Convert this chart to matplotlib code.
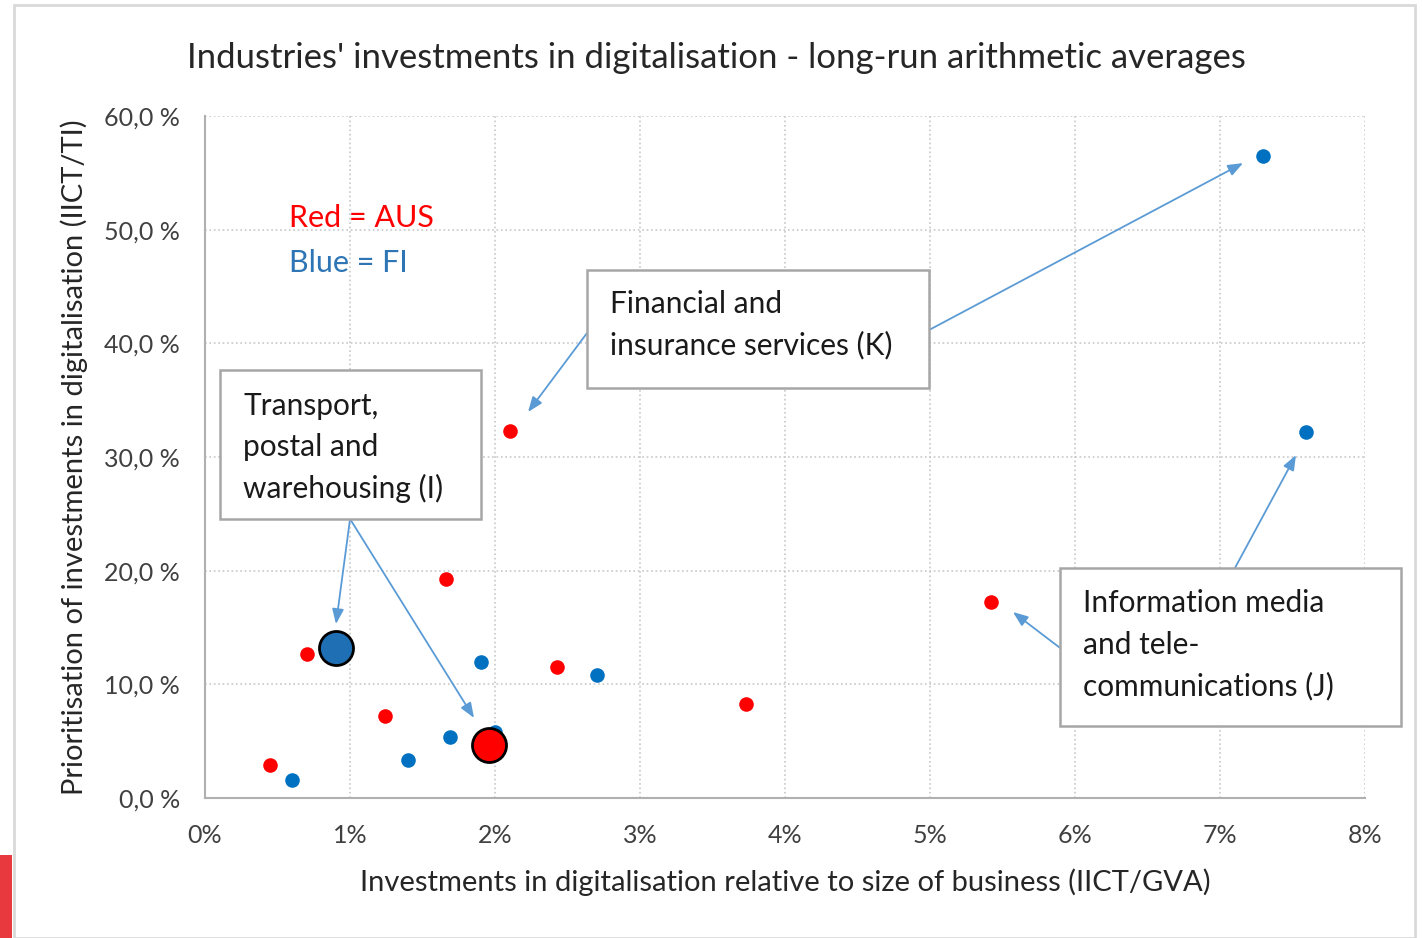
import matplotlib.pyplot as plt
from matplotlib.patches import Rectangle
from matplotlib.ticker import FuncFormatter

plt.rcParams['font.family'] = ['Lato', 'DejaVu Sans']

# data (x = IICT/GVA in %, y = IICT/TI in %)
aus_x = [0.45, 0.70, 1.24, 1.66, 2.10, 2.43, 3.73, 5.42]
aus_y = [2.9, 12.7, 7.2, 19.3, 32.3, 11.5, 8.3, 17.2]
fi_x = [0.60, 1.40, 1.69, 1.90, 2.00, 2.70, 7.30, 7.59]
fi_y = [1.6, 3.3, 5.4, 12.0, 5.8, 10.8, 56.5, 32.2]
# highlighted transport industry (I)
aus_big = (1.96, 4.7)
fi_big = (0.90, 13.2)

xticks = [0, 1, 2, 3, 4, 5, 6, 7, 8]
yticks = [0, 10, 20, 30, 40, 50, 60]

red = '#ff0000'
blue = '#0070c0'
arrow_c = '#5b9bd5'

fig = plt.figure(figsize=(14.22, 9.38), dpi=100)
ax = fig.add_axes([0.1442, 0.1493, 0.8157, 0.727])

ax.scatter(aus_x, aus_y, s=110, color=red, zorder=3, linewidths=0)
ax.scatter(fi_x, fi_y, s=110, color=blue, zorder=3, linewidths=0)
ax.scatter([fi_big[0]], [fi_big[1]], s=600, color='#1f6fb5', edgecolors='black', linewidths=2, zorder=4)
ax.scatter([aus_big[0]], [aus_big[1]], s=600, color=red, edgecolors='black', linewidths=2, zorder=4)

ax.set_xlim(0, 8)
ax.set_ylim(0, 60)
ax.set_xticks(xticks)
ax.set_yticks(yticks)
ax.xaxis.set_major_formatter(FuncFormatter(lambda v, p: '%d%%' % v))
ax.yaxis.set_major_formatter(FuncFormatter(lambda v, p: ('%.1f' % v).replace('.', ',') + ' %'))
ax.tick_params(length=0, labelsize=18, colors='#404040')
ax.tick_params(axis='x', pad=19)
ax.tick_params(axis='y', pad=18)
ax.grid(True, color='#c8c8c8', linestyle=':', linewidth=1.2)
for s in ['top', 'right']:
    ax.spines[s].set_visible(False)
for s in ['left', 'bottom']:
    ax.spines[s].set_color('#b0b0b0')
    ax.spines[s].set_linewidth(1.5)
ax.set_axisbelow(True)

ax.set_xlabel('Investments in digitalisation relative to size of business (IICT/GVA)', fontsize=21, color='#262626', labelpad=15)
ax.set_ylabel('Prioritisation of investments in digitalisation (IICT/TI)', fontsize=21, color='#262626', labelpad=12)
fig.text(0.5035, 0.938, "Industries' investments in digitalisation - long-run arithmetic averages",
         ha='center', va='center', fontsize=25, color='#262626')

ax.text(0.58, 51.0, 'Red = AUS', color=red, fontsize=22, va='center')
ax.text(0.58, 47.1, 'Blue = FI', color='#2e75b6', fontsize=22, va='center')

# annotation boxes: (x0, y0, x1, y1) in data units, first text line y, text
boxes = [
    ((2.634, 36.07, 4.993, 46.45), 43.5, ['Financial and', 'insurance services (K)']),
    ((0.103, 24.55, 1.903, 37.65), 34.5, ['Transport,', 'postal and', 'warehousing (I)']),
    ((5.897, 6.33, 8.248, 20.23), 17.15, ['Information media', 'and tele-', 'communications (J)']),
]
for (x0, y0, x1, y1), ty, lines in boxes:
    ax.add_patch(Rectangle((x0, y0), x1 - x0, y1 - y0, facecolor='white', edgecolor='#a6a6a6',
                           linewidth=1.8, zorder=5, clip_on=False))
    for i, t in enumerate(lines):
        ax.text(x0 + 0.16, ty - 3.65 * i, t, fontsize=21.5, color='#1a1a1a',
                va='center', zorder=6, clip_on=False)

arrows = [
    ((2.634, 40.9), (2.228, 33.96)),
    ((4.993, 41.17), (7.159, 55.86)),
    ((1.0, 24.55), (0.903, 15.3)),
    ((1.0, 24.55), (1.855, 7.04)),
    ((7.103, 20.23), (7.524, 30.17)),
    ((5.897, 13.2), (5.572, 16.36)),
]
for start, end in arrows:
    ax.annotate('', xy=end, xytext=start,
                arrowprops=dict(arrowstyle='-|>,head_length=0.9,head_width=0.35', color=arrow_c,
                                linewidth=1.3, shrinkA=0, shrinkB=0), zorder=4)

# outer frame and red strip
fig.patches.append(Rectangle((14 / 1422, 0), 1401 / 1422, 933 / 938, transform=fig.transFigure,
                             fill=False, edgecolor='#d9d9d9', linewidth=2))
fig.patches.append(Rectangle((0, 0), 12 / 1422, 83 / 938, transform=fig.transFigure,
                             facecolor='#e8393f', edgecolor='none'))

fig.savefig('out.png', dpi=100)
